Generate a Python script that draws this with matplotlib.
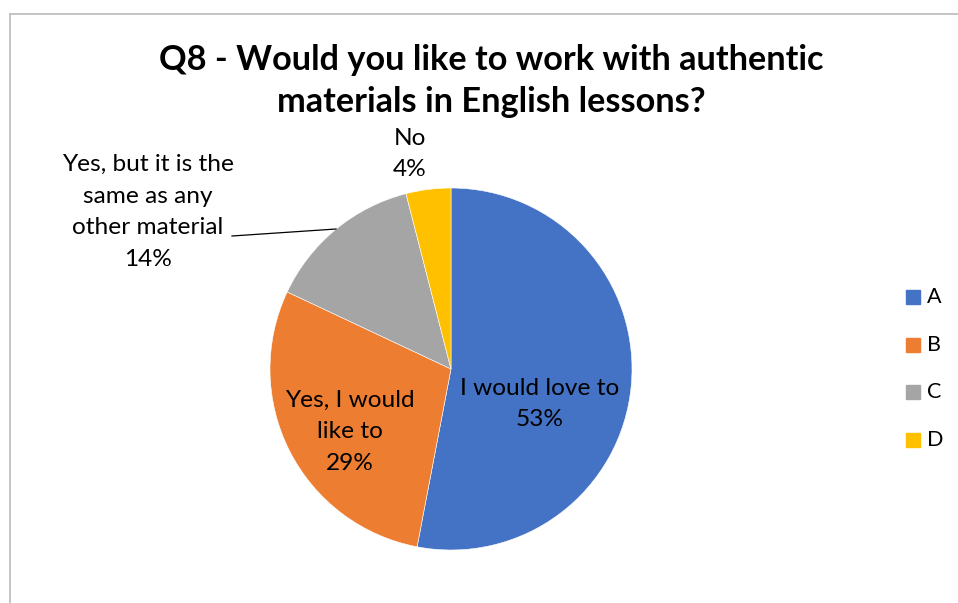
import matplotlib.pyplot as plt
from matplotlib.patches import Rectangle

plt.rcParams["font.family"] = ["Lato", "DejaVu Sans"]

# survey answers, Q8
CODES = ["A", "B", "C", "D"]
ANSWERS = ["I would love to", "Yes, I would\nlike to",
           "Yes, but it is the\nsame as any\nother material", "No"]
SHARES = [53, 29, 14, 4]
COLORS = ["#4472C4", "#ED7D31", "#A5A5A5", "#FFC000"]

W, H = 958, 603


def py(y):
    # pixel rows are measured from the top
    return H - y


fig = plt.figure(figsize=(W / 100, H / 100), dpi=100)
ax = fig.add_axes([0, 0, 1, 1])

cx, cy, r = 451, py(369), 181
ax.pie(SHARES, colors=COLORS, startangle=90, counterclock=False,
       center=(cx, cy), radius=r, frame=True,
       wedgeprops=dict(edgecolor="white", linewidth=0.4))
ax.set_xlim(0, W)
ax.set_ylim(0, H)
ax.axis("off")

# chart-area frame (only top and left show)
ax.plot([10, W + 5], [py(14), py(14)], color="#BFBFBF", lw=1.3)
ax.plot([10, 10], [py(14), -5], color="#BFBFBF", lw=1.3)

ax.text(491, py(81), "Q8 - Would you like to work with authentic\n"
        "materials in English lessons?", ha="center", va="center",
        fontsize=24.7, fontweight="bold", linespacing=1.38)

label_pos = [(540, 404), (350, 432), (148, 212), (410, 154)]
for name, share, (x, y) in zip(ANSWERS, SHARES, label_pos):
    ax.text(x, py(y), f"{name}\n{share}%", ha="center", va="center",
            fontsize=17.6, linespacing=1.64, color="#000000")

# leader line for the small grey slice label
ax.plot([232, 336], [py(236), py(229)], color="black", lw=0.9)

# legend
for i, (code, col) in enumerate(zip(CODES, COLORS)):
    y = py(297 + 47.7 * i)
    ax.add_patch(Rectangle((906, y - 7), 14, 14, color=col))
    ax.text(927, y, code, ha="left", va="center", fontsize=15.5)

fig.savefig("out.png", dpi=100)
